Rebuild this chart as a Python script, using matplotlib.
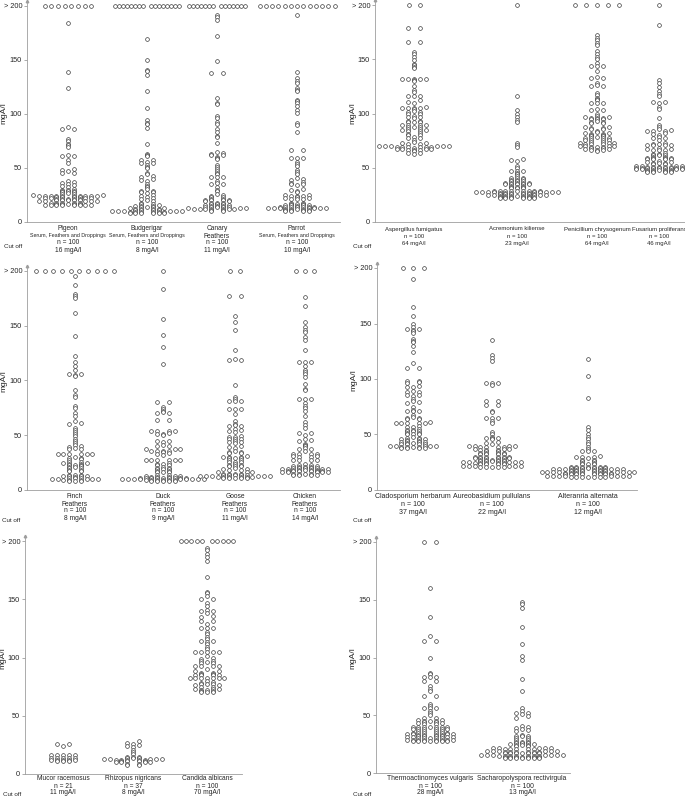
import numpy as np
import matplotlib
matplotlib.use('Agg')
import matplotlib.pyplot as plt

plt.rcParams['font.family'] = ['Liberation Sans', 'DejaVu Sans']

# ---------------- data (mgA/l), values > 200 only counted ----------------
pigeon_over = 8
pigeon = [184, 139, 124, 88, 86, 86, 77, 75, 72, 71, 69, 62, 61, 61, 57, 55, 49, 48, 47, 45, 45,
          38, 37, 36, 35, 34, 33, 32, 31, 30, 30, 29, 29, 29, 28, 28, 27, 26, 26, 25, 25,
          24, 24, 24, 24, 24, 24, 24, 24, 24, 24, 23, 23, 23, 23, 22, 22, 22, 22,
          21, 21, 21, 21, 21, 20, 20, 20, 20, 20, 19, 19, 19, 19, 19, 18, 18, 18, 18, 18,
          17, 17, 17, 17, 17, 16, 16, 16, 16, 16, 16, 16, 16]
budgerigar_over = 16
budgerigar = [169, 150, 141, 140, 136, 121, 106, 94, 92, 91, 87, 72, 63, 62, 61,
              57, 57, 56, 55, 55, 53, 51, 50, 45, 44, 43, 42, 40, 39, 38, 35, 33, 32, 31,
              29, 29, 28, 28, 27, 25, 24, 23, 22, 21, 20, 19, 18, 17, 17, 16,
              15, 15, 15, 14, 14, 14, 13, 13,
              12, 12, 12, 12, 11, 11, 11, 11, 10, 10, 10, 10, 10, 10,
              9, 9, 9, 9, 9, 9, 8, 8, 8, 8, 8, 8]
canary_over = 14
canary = [192, 190, 187, 172, 149, 138, 138, 115, 110, 109, 98, 96, 93, 91, 86, 83, 80, 79, 73,
          65, 64, 63, 62, 62, 60, 59, 58, 53, 51, 49, 47, 45, 44, 42, 42, 42, 38, 36, 35, 35, 32, 30, 29,
          26, 25, 24, 23, 23, 21, 21, 20, 20, 20, 20, 19, 19, 18, 18, 18, 17, 17, 17,
          16, 16, 15, 15, 15, 14, 14, 14, 14, 14,
          13, 13, 13, 12, 12, 12, 12, 12, 12, 12, 11, 11, 10, 10]
parrot_over = 13
parrot = [192, 139, 133, 131, 129, 124, 122, 121, 113, 112, 110, 107, 104, 101, 92, 90, 83, 67, 67,
          59, 59, 59, 56, 54, 52, 48, 46, 44, 41, 40, 39, 37, 36, 35, 35, 34, 31, 30, 29, 28,
          25, 25, 24, 24, 24, 23, 22, 22, 21, 21, 21,
          18, 18, 17, 17, 17, 16, 16, 16, 16, 15,
          14, 14, 14, 14, 14, 14, 14, 13, 13, 13, 13, 13, 13, 13,
          12, 12, 12, 12, 11, 11, 11, 11, 10, 10, 10, 10]

aspergillus_over = 2
aspergillus = [179, 179, 166, 166, 157, 155, 152, 149, 146, 145, 143, 142,
               132, 132, 132, 132, 132, 131, 130, 125, 122, 120, 116, 116, 116, 112, 111, 110,
               106, 105, 105, 105, 105, 104, 102, 101, 101, 100, 100, 98, 97, 97, 96,
               93, 93, 92, 92, 92, 89, 89, 89, 89, 88, 88, 88,
               86, 86, 85, 85, 84, 84, 82, 81, 80, 80, 78, 77, 77, 76, 74, 73, 73, 72, 72,
               70, 70, 70, 70, 70, 70, 69, 69, 69, 69, 69, 69,
               68, 67, 67, 67, 67, 66, 66, 66, 65, 64, 64, 63]
acremonium_over = 1
acremonium = [116, 103, 100, 97, 94, 92, 73, 71, 69, 58, 57, 56, 52, 50, 47, 47, 47, 45, 44,
              42, 41, 41, 41, 40, 39, 39, 38, 38, 38,
              36, 36, 36, 36, 36, 35, 35, 35, 35, 35, 33, 33, 32, 32, 32, 31, 31, 31,
              29, 29, 29, 29, 29, 29, 29, 29, 29, 28, 28, 28, 28, 28, 28, 28, 28, 28,
              27, 27, 27, 27, 27, 26, 26, 26, 26, 26, 26, 25, 25, 25, 25, 25,
              24, 24, 24, 24, 24, 24, 23, 23, 23, 23, 23, 23, 22, 22, 22, 22, 22, 22]
penicillium_over = 5
penicillium = [172, 170, 168, 165, 163, 158, 155, 152, 150, 147, 144, 144, 144, 139, 134, 133, 133,
               128, 126, 125, 125, 119, 117, 114, 113, 112, 110, 110, 110, 104, 103, 103,
               100, 98, 97, 97, 96, 96, 96, 95, 95, 95, 93, 92, 92, 91, 91,
               88, 88, 87, 87, 86, 86, 84, 83, 82, 82, 81, 81, 80, 80, 79, 79, 78,
               77, 77, 77, 77, 76, 76, 76, 76, 74, 74, 73, 73, 73, 72, 72, 72,
               70, 70, 70, 70, 69, 69, 69, 68, 68, 67, 67, 66, 66, 66, 65]
fusarium_over = 1
fusarium = [182, 131, 128, 124, 121, 118, 116, 111, 111, 110, 106, 104, 96, 89, 88, 86, 85,
            84, 84, 84, 82, 81, 80, 78, 77, 77, 76,
            73, 72, 72, 71, 71, 71, 71, 68, 67, 67, 66, 66, 66, 64, 63, 63, 62, 62, 62,
            60, 60, 59, 59, 59, 59, 58, 58, 58, 58, 56, 55, 55, 54, 54, 54, 53, 53,
            52, 52, 52, 52, 51, 51, 51, 51, 51, 50, 50, 50, 50, 50, 50, 50, 50, 50,
            49, 49, 49, 49, 48, 48, 48, 48, 48, 47, 47, 47, 47, 46, 46, 46, 46]

finch_over = 10
finch = [195, 187, 179, 177, 175, 162, 141, 122, 117, 113, 110, 106, 106, 105, 104, 91, 87, 85,
         77, 75, 70, 68, 63, 61, 60,
         57, 55, 53, 51, 49, 47, 45, 43, 41, 40, 39, 38, 37, 37,
         33, 33, 33, 33, 33, 33, 30, 29, 29, 28, 27, 26, 26, 25, 25,
         24, 24, 23, 23, 23, 22, 21, 21, 20, 20, 18, 18, 17, 17,
         14, 14, 14, 13, 13, 13, 13, 12, 11, 11, 11, 10, 10, 10, 10, 10,
         9, 9, 9, 8, 8, 8]
duck_over = 1
duck = [184, 156, 142, 131, 115, 80, 80, 76, 74, 72, 71, 70, 70, 64, 64,
        54, 54, 54, 54, 52, 51, 51, 50, 45, 45, 44, 41, 40, 40,
        37, 37, 37, 36, 36, 36, 36, 35, 34, 33, 32,
        27, 27, 27, 27, 27, 27, 25, 24, 24, 23, 23,
        21, 20, 20, 19, 19, 19, 17, 17, 16, 16, 16,
        14, 14, 13, 13, 13, 12, 12, 12,
        11, 11, 11, 11, 11, 11, 11, 11, 11, 10, 10, 10, 10, 10, 10, 10, 10, 10,
        9, 9, 9, 9, 9, 9, 8, 8, 8, 8, 8]
goose_over = 2
goose = [177, 177, 159, 153, 146, 128, 120, 119, 119, 96, 85, 83, 81, 81, 81, 74, 74, 74, 69, 63,
         60, 59, 58, 58, 56, 55, 54, 53, 49, 48, 48, 47, 47, 47, 45, 44, 44, 43, 40, 39, 38,
         36, 35, 35, 34, 34, 31, 30, 30, 30, 29, 29, 29, 27, 27, 26, 26, 26,
         24, 23, 23, 22, 22, 22, 20, 19, 19, 18, 18,
         16, 16, 16, 15, 15, 15, 15, 14, 14, 14, 14, 14,
         13, 13, 13, 13, 13, 13, 12, 12, 12, 12, 12, 12, 11, 11, 11, 11, 11]
chicken_over = 3
chicken = [176, 168, 153, 149, 146, 144, 140, 137, 128, 117, 117, 117, 113, 110, 108, 106, 103, 97, 92, 91,
           83, 83, 83, 79, 77, 75, 72, 68, 62, 59, 57, 52, 52, 50, 47, 46, 45, 42, 41, 40,
           38, 37, 37, 36, 33, 33, 33, 33, 31, 31, 30, 30, 27, 27, 27, 27,
           24, 23, 23, 22, 22,
           21, 21, 21, 20, 20, 20, 20, 20, 19, 19, 19, 19,
           18, 18, 18, 18, 18, 17, 17, 17, 17, 17, 17, 16, 16, 16, 16, 16,
           15, 15, 15, 15, 14, 14, 14, 14]

cladosporium_over = 3
cladosporium = [190, 165, 157, 150, 147, 145, 145, 144, 143, 141, 136, 134, 133, 130, 124, 114, 110, 110,
                98, 98, 97, 96, 94, 93, 93, 89, 88, 88, 86, 86, 85, 82, 80, 79, 78,
                75, 72, 71, 71, 71, 68, 66, 65, 65, 64, 64, 61, 60, 60, 60, 60, 60, 58, 57, 57,
                55, 54, 54, 53, 53, 53, 51, 51, 50, 50, 50,
                48, 47, 47, 46, 46, 46, 45, 44, 44, 43, 43, 43,
                42, 42, 41, 41, 41, 41, 40, 40, 40, 40, 40,
                39, 39, 39, 39, 38, 38, 38, 38]
aureobasidium_over = 0
aureobasidium = [135, 122, 119, 116, 96, 96, 96, 95, 80, 80, 77, 77, 71, 70, 65, 65, 65, 62, 60,
                 52, 50, 48, 47, 47, 47, 46, 43, 42, 41,
                 40, 40, 40, 40, 39, 39, 39, 39, 37, 37, 37, 36, 36, 36, 35, 35,
                 33, 33, 33, 33, 32, 32, 32, 32,
                 30, 30, 30, 30, 30, 30, 29, 29, 29, 29, 29, 29,
                 27, 27, 27, 27, 27, 26, 26, 26, 26, 26,
                 25, 25, 25, 25, 25, 24, 24, 24, 24, 24, 23, 23, 23, 23,
                 22, 22, 22, 22, 22, 22, 21, 21, 21, 21, 21]
alternaria_over = 0
alternaria = [118, 103, 83, 57, 54, 50, 48, 46, 43, 41, 39, 37, 35, 35, 35, 31, 30, 30, 30, 29,
              27, 27, 26, 26, 24, 24, 23, 23, 23,
              21, 21, 21, 21, 21, 21, 21, 20, 20, 20, 20, 20, 20, 20,
              19, 19, 19, 19, 19, 19, 18, 18, 18, 18, 18, 18, 17, 17, 17, 17, 17, 17,
              16, 16, 16, 16, 16, 16, 16, 16, 15, 15, 15, 15, 15, 15, 15, 15,
              14, 14, 14, 14, 14, 14, 14, 14, 13, 13, 13, 13, 13, 13, 13, 13,
              12, 12, 12, 12, 12, 12, 12]

mucor_over = 0
mucor = [26, 26, 24, 16, 16, 16, 16, 16, 14, 14, 14, 14, 14, 12, 12, 12, 12, 12, 11, 11, 11]
rhizopus_over = 0
rhizopus = [28, 27, 26, 25, 24, 23, 21, 19, 17, 15, 15, 15, 14, 14, 14,
            13, 13, 13, 13, 13, 12, 12, 12, 12, 12, 11, 11, 11, 11, 10, 10, 10, 10, 9, 9, 8, 8]
candida_over = 10
candida = [194, 192, 189, 186, 183, 169, 156, 155, 153, 150, 150, 147, 144, 141, 140, 140, 138, 136,
           135, 131, 131, 129, 125, 125, 125, 122, 120, 118, 116, 114, 114, 113, 112, 109, 107,
           105, 105, 105, 105, 105, 101, 100, 99, 97, 97, 96, 95, 95, 93, 93, 93, 93, 90, 88, 88, 87, 87,
           86, 86, 85, 85, 85, 85, 82, 82, 82, 82, 82, 82, 82, 80, 79, 78, 77, 77, 77,
           76, 76, 75, 75, 73, 73, 73, 72, 72, 71, 71, 70, 70, 70]

thermo_over = 2
thermo = [160, 135, 119, 114, 114, 100, 87, 86, 83, 83, 83, 80, 80, 75, 73, 71, 67, 67,
          60, 58, 56, 56, 56, 54, 52, 50, 48, 48, 46, 46, 45, 45, 45,
          44, 44, 43, 43, 42, 42, 40, 40, 40, 40, 40, 40, 40, 38, 38, 38, 38, 38, 38,
          36, 36, 36, 36, 35, 35, 35, 35, 35, 35, 34, 34, 34, 34, 33, 33, 33, 33,
          32, 32, 32, 32, 31, 31, 31, 31, 30, 30, 30, 30, 30,
          29, 29, 29, 29, 29, 29, 29, 29, 28, 28, 28, 28, 28, 28, 28]
sacharo_over = 0
sacharo = [148, 146, 143, 126, 112, 101, 98, 81, 71, 56, 54, 52, 52, 51, 49, 48, 41, 40, 39, 38, 37, 36,
           33, 32, 32, 32, 30, 30, 29, 29,
           27, 27, 27, 26, 26, 26, 25, 25, 24, 24, 24, 23, 23,
           22, 22, 22, 22, 22, 21, 21, 21, 21, 21,
           19, 19, 19, 19, 19, 19, 18, 18, 18, 18, 18, 18,
           17, 17, 17, 17, 17, 17, 17, 16, 16, 16, 16, 16, 16, 16,
           15, 15, 15, 15, 15, 15, 15, 14, 14, 14, 14, 14, 14, 14, 13, 13, 13, 13, 13, 13, 13]

SFD = 'Serum, Feathers and Droppings'
# (name, second line, n, cut off, values, count > 200)
panels_groups = [
    [('Pigeon', SFD, 100, 16, pigeon, pigeon_over),
     ('Budgerigar', SFD, 100, 8, budgerigar, budgerigar_over),
     ('Canary', 'Feathers', 100, 11, canary, canary_over),
     ('Parrot', SFD, 100, 10, parrot, parrot_over)],
    [('Aspergillus fumigatus', None, 100, 64, aspergillus, aspergillus_over),
     ('Acremonium kiliense', None, 100, 23, acremonium, acremonium_over),
     ('Penicillium chrysogenum', None, 100, 64, penicillium, penicillium_over),
     ('Fusarium proliferans', None, 100, 46, fusarium, fusarium_over)],
    [('Finch', 'Feathers', 100, 8, finch, finch_over),
     ('Duck', 'Feathers', 100, 9, duck, duck_over),
     ('Goose', 'Feathers', 100, 11, goose, goose_over),
     ('Chicken', 'Feathers', 100, 14, chicken, chicken_over)],
    [('Cladosporium herbarum', None, 100, 37, cladosporium, cladosporium_over),
     ('Aureobasidium pullulans', None, 100, 22, aureobasidium, aureobasidium_over),
     ('Alteranria alternata', None, 100, 12, alternaria, alternaria_over)],
    [('Mucor racemosus', None, 21, 11, mucor, mucor_over),
     ('Rhizopus nigricans', None, 37, 8, rhizopus, rhizopus_over),
     ('Candida albicans', None, 100, 70, candida, candida_over)],
    [('Thermoactinomyces vulgaris', None, 100, 28, thermo, thermo_over),
     ('Sacharopolyspora rectivirgula', None, 100, 13, sacharo, sacharo_over)],
]

# ---------------- layout (pixels in a 685 x 797 figure) ----------------
W, H = 685, 797
# x0, x1, y(0), y(200), category centres, label line ys, cut-off (x, y), ylabel (x, y), label size
layout = [
    dict(x0=27, x1=340, y0=222, y200=6, cx=[68, 147, 217, 297],
         ly=[229, 236, 243, 250], cut=(4, 247), yl=(4, 113), fs=4.8),
    dict(x0=375, x1=685, y0=222, y200=5, cx=[414, 517, 597, 659],
         ly=[229, 236, 243], cut=(353, 247), yl=(353, 113), fs=4.3),
    dict(x0=27, x1=340, y0=490, y200=271, cx=[75, 163, 235, 305],
         ly=[496, 504, 511, 519], cut=(2, 520), yl=(4, 381), fs=4.8),
    dict(x0=377, x1=637, y0=490, y200=268, cx=[413, 492, 588],
         ly=[497, 504, 512], cut=(353, 520), yl=(354, 380), fs=5.0),
    dict(x0=25, x1=242, y0=774, y200=541, cx=[63, 133, 207],
         ly=[778, 786, 793], cut=(3, 794), yl=(3, 658), fs=4.8),
    dict(x0=376, x1=570, y0=773, y200=542, cx=[430, 522],
         ly=[778, 786, 793], cut=(353, 794), yl=(353, 658), fs=4.9),
]
# spacing (px) and centre gap (px) of the "> 200" rows
over_spacing = {'Pigeon': (6.7, 0), 'Budgerigar': (4.0, 4.0), 'Canary': (4.0, 4.0),
                'Parrot': (6.25, 0), 'Aspergillus fumigatus': (11, 0),
                'Penicillium chrysogenum': (10.8, 0), 'Finch': (8.7, 0),
                'Goose': (9.3, 0), 'Chicken': (9, 0), 'Cladosporium herbarum': (10.5, 0),
                'Candida albicans': (5.2, 5.2), 'Thermoactinomyces vulgaris': (12.7, 0)}

GRID = 5.8      # px between neighbours in one row
BINW = 1.5      # mgA/l, height of a row
SPINE = '#9d9d9d'
DOT = '#3c3c3c'
TXT = '#262626'


def swarm_offsets(vals, g):
    vals = np.asarray(vals, float)
    bins = np.floor(vals / BINW).astype(int)
    xs = np.zeros(len(vals))
    for b in np.unique(bins):
        idx = np.where(bins == b)[0]
        idx = idx[np.argsort(vals[idx])]
        k = len(idx)
        if k % 2:
            slots = [0] + [s * j for j in range(1, k // 2 + 1) for s in (-1, 1)]
        else:
            slots = [s * j for j in range(1, k // 2 + 1) for s in (-1, 1)]
        xs[idx] = np.array(slots[:k]) * g
    return xs


def over_offsets(k, sp, gap):
    if k == 0:
        return np.array([])
    off = (np.arange(k) - (k - 1) / 2.0) * sp
    off = off + np.sign(off) * gap / 2.0
    return off


def ftxt(x, y, s, **kw):
    fig.text(x / W, 1 - y / H, s, **kw)


fig = plt.figure(figsize=(W / 100, H / 100), dpi=100)
fig.patch.set_facecolor('white')

for groups, lay in zip(panels_groups, layout):
    scale = (lay['y0'] - lay['y200']) / 200.0   # px per mgA/l
    ytop = 200 + 5 / scale
    top_px = lay['y0'] - ytop * scale
    ax = fig.add_axes([lay['x0'] / W, 1 - lay['y0'] / H,
                       (lay['x1'] - lay['x0']) / W, (lay['y0'] - top_px) / H])
    ax.set_xlim(0, lay['x1'] - lay['x0'])
    ax.set_ylim(0, ytop)
    for sp in ('top', 'right'):
        ax.spines[sp].set_visible(False)
    for sp in ('left', 'bottom'):
        ax.spines[sp].set_color(SPINE)
        ax.spines[sp].set_linewidth(0.6)
    ax.set_xticks([])
    ax.set_yticks([0, 50, 100, 150, 200])
    ax.set_yticklabels(['0', '50', '100', '150', '> 200'])
    ax.tick_params(axis='y', length=2, width=0.6, color=SPINE, pad=1.5,
                   labelsize=5.3, labelcolor=TXT)
    # small arrow head on top of the y axis
    ax.plot([0], [1], marker='^', ms=1.8, color=SPINE, transform=ax.transAxes,
            clip_on=False)

    for (name, sub, n, cut, vals, over), cx in zip(groups, lay['cx']):
        xc = cx - lay['x0']
        xs = swarm_offsets(vals, GRID) + xc
        ax.plot(xs, vals, 'o', ms=2.7, mfc='white', mec=DOT, mew=0.5,
                linestyle='none', clip_on=False)
        if over:
            sp, gap = over_spacing.get(name, (10, 0))
            xo = over_offsets(over, sp, gap) + xc
            ax.plot(xo, [200] * over, 'o', ms=2.7, mfc='white', mec=DOT, mew=0.5,
                    linestyle='none', clip_on=False)

        fs = lay['fs']
        lines = [(name, fs)]
        if sub is not None:
            lines.append((sub, 3.8 if sub == SFD else fs))
        lines.append(('n = %d' % n, fs))
        lines.append(('%d mgA/l' % cut, fs))
        for (s, size), ly in zip(lines, lay['ly']):
            ftxt(cx, ly, s, ha='center', va='center', fontsize=size, color=TXT)

    ftxt(lay['cut'][0], lay['cut'][1], 'Cut off', ha='left', va='center',
         fontsize=4.5, color=TXT)
    ftxt(lay['yl'][0], lay['yl'][1], 'mgA/l', ha='center', va='center',
         rotation=90, fontsize=6.0, color=TXT)

fig.savefig('out.png', dpi=100, facecolor='white')
